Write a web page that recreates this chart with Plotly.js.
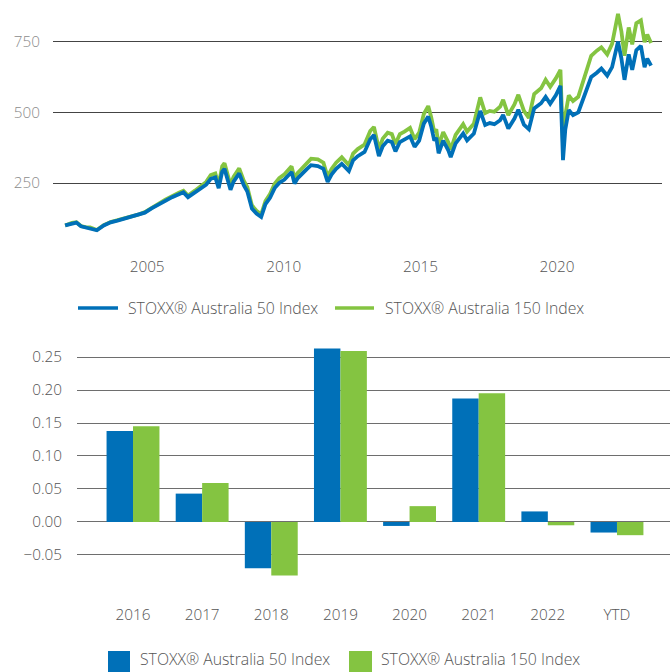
<!DOCTYPE html>
<html>
<head>
<meta charset="utf-8">
<script src="https://cdn.plot.ly/plotly-3.0.1.min.js"></script>
<style>
html,body{margin:0;padding:0;background:#fff;overflow:hidden;}
#chart{width:670px;height:672px;}
</style>
</head>
<body>
<div id="chart"></div>
<script>
// ---- Data ----
const seriesNames = ["STOXX® Australia 50 Index", "STOXX® Australia 150 Index"];

const lineDates = [
 "2002-01-01","2002-04-01","2002-06-01","2002-08-01","2002-10-01","2002-12-01",
 "2003-03-01","2003-06-01","2003-09-01","2003-12-01",
 "2004-03-01","2004-06-01","2004-09-01","2004-12-01",
 "2005-03-01","2005-06-01","2005-09-01","2005-12-01",
 "2006-03-01","2006-05-01","2006-07-01","2006-10-01","2006-12-01",
 "2007-03-01","2007-05-01","2007-07-01","2007-08-15","2007-10-01","2007-11-01",
 "2008-01-20","2008-03-01","2008-05-15","2008-07-15","2008-09-01","2008-11-01",
 "2009-01-01","2009-03-05","2009-05-01","2009-07-01","2009-09-01","2009-11-01",
 "2010-01-10","2010-04-15","2010-05-25","2010-07-01","2010-09-01","2010-11-01",
 "2011-01-01","2011-04-01","2011-06-15","2011-08-10","2011-10-01","2011-12-01",
 "2012-02-15","2012-05-20","2012-07-15","2012-09-15","2012-12-15",
 "2013-03-01","2013-04-20","2013-06-25","2013-08-15","2013-10-20","2013-12-15",
 "2014-02-01","2014-04-01","2014-06-01","2014-08-15","2014-10-15","2014-12-15",
 "2015-02-15","2015-04-15","2015-05-25","2015-07-05","2015-08-01","2015-09-01","2015-11-01",
 "2016-01-10","2016-02-10","2016-04-15","2016-07-25","2016-09-15","2016-12-15",
 "2017-02-01","2017-03-10","2017-05-15","2017-07-15","2017-09-15","2017-12-01",
 "2018-01-10","2018-03-20","2018-06-10","2018-08-01","2018-10-15","2018-12-20",
 "2019-03-01","2019-06-01","2019-08-01","2019-10-01","2019-12-15",
 "2020-02-15","2020-03-20","2020-04-20","2020-06-05","2020-08-01","2020-10-10","2020-11-20",
 "2021-01-10","2021-04-01","2021-06-15","2021-08-15","2021-11-01",
 "2022-01-05","2022-03-25","2022-05-10","2022-06-20","2022-08-15","2022-10-01","2022-11-25",
 "2023-01-25","2023-03-15","2023-04-20","2023-06-10"
];

const aus50 = [
 100,108,110,97,93,92,
 83,100,111,117,
 124,131,136,145,
 160,172,187,200,
 210,217,200,216,226,
 244,265,270,232,290,300,
 226,255,284,242,220,160,
 142,130,175,198,232,250,
 262,289,248,265,283,298,
 313,310,300,254,280,300,
 318,292,330,345,360,
 405,420,345,380,400,395,
 362,395,403,415,378,400,
 460,485,450,400,410,355,400,
 365,342,390,425,401,425,
 470,505,455,462,458,472,
 491,443,478,509,456,440,
 514,532,555,530,560,
 594,331,440,508,490,500,530,
 570,625,640,655,630,
 660,750,690,615,705,650,720,
 735,660,690,665
];

const aus150 = [
 100,109,111,98,94,93,
 84,101,112,118,
 126,133,138,147,
 163,176,191,205,
 216,223,206,223,234,
 254,278,284,244,309,320,
 243,272,302,258,235,171,
 152,139,186,211,247,267,
 281,309,266,284,303,320,
 336,334,322,272,300,322,
 341,313,354,370,386,
 434,448,370,407,428,423,
 388,423,432,445,405,428,
 494,522,483,430,440,381,430,
 393,368,420,458,432,460,
 510,553,497,505,502,520,
 544,490,528,562,505,480,
 565,585,615,590,620,
 650,385,490,560,540,555,590,
 635,700,718,730,705,
 742,848,785,700,800,740,815,
 825,748,775,745
];

const barCats = ["2016","2017","2018","2019","2020","2021","2022","YTD"];
const bar50  = [0.138, 0.043, -0.070, 0.263, -0.006, 0.187, 0.016, -0.016];
const bar150 = [0.145, 0.059, -0.081, 0.259, 0.024, 0.195, -0.005, -0.020];

const topTickVals = ["2005-01-01","2010-01-01","2015-01-01","2020-01-01"];
const topTickText = ["2005","2010","2015","2020"];
const topYTicks = [250, 500, 750];
const barYTicks = [-0.05, 0, 0.05, 0.10, 0.15, 0.20, 0.25];

// ---- Styles ----
const BLUE = "#0070B8";
const GREEN = "#84C441";
const FONT = "Open Sans, Noto Sans, sans-serif";
const W = 670, H = 672;
const px = v => v / W;          // paper x from pixel
const py = v => 1 - v / H;      // paper y from pixel

const traces = [
  {x: lineDates, y: aus150, type: "scatter", mode: "lines", name: seriesNames[1],
   line: {color: GREEN, width: 3.8}, xaxis: "x", yaxis: "y", showlegend: false},
  {x: lineDates, y: aus50, type: "scatter", mode: "lines", name: seriesNames[0],
   line: {color: BLUE, width: 3.8}, xaxis: "x", yaxis: "y", showlegend: false},
  {x: barCats, y: bar50, type: "bar", name: seriesNames[0], marker: {color: BLUE},
   xaxis: "x2", yaxis: "y2", showlegend: false},
  {x: barCats, y: bar150, type: "bar", name: seriesNames[1], marker: {color: GREEN},
   xaxis: "x2", yaxis: "y2", showlegend: false}
];

// Legend keys (layout decoration)
const shapes = [
  {type: "line", xref: "paper", yref: "paper", x0: px(78), x1: px(118), y0: py(308), y1: py(308),
   line: {color: BLUE, width: 3.5}},
  {type: "line", xref: "paper", yref: "paper", x0: px(335), x1: px(374), y0: py(308), y1: py(308),
   line: {color: GREEN, width: 3.5}},
  {type: "rect", xref: "paper", yref: "paper", x0: px(108), x1: px(130), y0: py(651), y1: py(672),
   fillcolor: BLUE, line: {width: 0}},
  {type: "rect", xref: "paper", yref: "paper", x0: px(349), x1: px(372), y0: py(651), y1: py(672),
   fillcolor: GREEN, line: {width: 0}}
];
const legFont = {family: FONT, size: 15.8, color: "#555", weight: 300};
const annotations = [
  {xref: "paper", yref: "paper", x: px(126), y: py(308), text: seriesNames[0], showarrow: false,
   xanchor: "left", yanchor: "middle", font: legFont},
  {xref: "paper", yref: "paper", x: px(383), y: py(308), text: seriesNames[1], showarrow: false,
   xanchor: "left", yanchor: "middle", font: legFont},
  {xref: "paper", yref: "paper", x: px(139), y: py(671), text: seriesNames[0], showarrow: false,
   xanchor: "left", yanchor: "bottom", borderpad: 0, font: legFont},
  {xref: "paper", yref: "paper", x: px(380), y: py(671), text: seriesNames[1], showarrow: false,
   xanchor: "left", yanchor: "bottom", borderpad: 0, font: legFont}
];

const layout = {
  width: W, height: H,
  margin: {l: 0, r: 0, t: 0, b: 0, pad: 0, autoexpand: false},
  paper_bgcolor: "#fff", plot_bgcolor: "#fff",
  font: {family: FONT, size: 15, color: "#555", weight: 300},
  showlegend: false,
  barmode: "group", bargap: 0.235, bargroupgap: 0,
  xaxis: {
    type: "date", domain: [px(53), px(662)], anchor: "y",
    range: ["2001-07-23", "2023-11-03"],
    tickmode: "array", tickvals: topTickVals, ticktext: topTickText,
    showgrid: false, zeroline: false, showline: false, ticks: "",
    tickfont: {size: 15.3, color: "#555", weight: 300}, ticklabelstandoff: 2, automargin: false
  },
  yaxis: {
    domain: [py(253.7), py(8)], anchor: "x",
    range: [0, 869],
    tickmode: "array", tickvals: topYTicks,
    showgrid: true, gridcolor: "#444", gridwidth: 1,
    zeroline: false, showline: false, ticks: "",
    tickfont: {size: 15.3, color: "#8c8c8c", weight: 300}, ticklabelstandoff: 12, automargin: false
  },
  xaxis2: {
    type: "category", domain: [px(77), 1], anchor: "y2",
    categoryorder: "array", categoryarray: barCats,
    range: [-0.81, 7.767],
    showgrid: false, zeroline: false, showline: false, ticks: "",
    tickfont: {size: 15.3, color: "#555", weight: 300}, ticklabelstandoff: 6, automargin: false
  },
  yaxis2: {
    domain: [py(598), py(345)], anchor: "x2",
    range: [-0.1152, 0.2682],
    tickmode: "array", tickvals: barYTicks, tickformat: ".2f",
    showgrid: true, gridcolor: "#6e6e6e", gridwidth: 1,
    zeroline: false, showline: false, ticks: "",
    tickfont: {size: 15.3, color: "#555", weight: 300}, ticklabelstandoff: 14, automargin: false
  },
  shapes: shapes,
  annotations: annotations
};

Plotly.newPlot("chart", traces, layout, {displayModeBar: false, staticPlot: true});
</script>
</body>
</html>
